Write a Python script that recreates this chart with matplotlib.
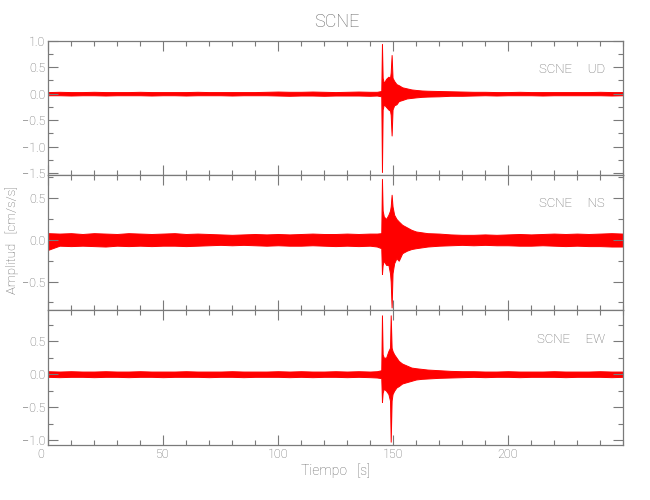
import matplotlib
matplotlib.use("Agg")
import matplotlib.pyplot as plt
from matplotlib.ticker import FixedLocator, MultipleLocator, FuncFormatter
import matplotlib.transforms as mtransforms

plt.rcParams['font.family'] = ['Roboto', 'DejaVu Sans']
plt.rcParams['font.weight'] = 'light'

# ---------------- data (envelope of each trace) -------------
station = "SCNE"
components = ["UD", "NS", "EW"]

t = [0, 5, 10, 15, 20, 25, 30, 35, 40, 45, 50, 55, 60, 65, 70, 75, 80, 85, 90, 95,
     100, 105, 110, 115, 120, 125, 130, 135, 140,
     143, 144.9, 145.2, 145.5, 146, 147, 148, 148.7, 149.0, 149.4, 149.8, 150.5,
     151.5, 152.5, 154, 156, 158, 160, 162.5,
     165, 170, 175, 180, 185, 190, 195, 200, 205, 210, 215, 220, 225, 230, 235, 240, 245, 250]

ud_up = [0.03, 0.035, 0.03, 0.03, 0.035, 0.03, 0.03, 0.03, 0.035, 0.03, 0.03, 0.03, 0.03, 0.035,
         0.03, 0.03, 0.03, 0.03, 0.03, 0.035, 0.04, 0.035, 0.035, 0.04, 0.035, 0.03, 0.035, 0.04, 0.035,
         0.035, 0.05, 0.94, 0.3, 0.2, 0.28, 0.32, 0.3, 0.4, 0.73, 0.3, 0.24,
         0.18, 0.16, 0.12, 0.1, 0.08, 0.07, 0.06,
         0.055, 0.05, 0.045, 0.04, 0.035, 0.035, 0.03, 0.03, 0.035, 0.03, 0.03, 0.03, 0.03, 0.03,
         0.03, 0.035, 0.03, 0.03]
ud_lo = [-0.03, -0.03, -0.035, -0.03, -0.03, -0.035, -0.03, -0.03, -0.03, -0.035, -0.03, -0.03,
         -0.035, -0.03, -0.03, -0.03, -0.035, -0.03, -0.03, -0.03, -0.035, -0.04, -0.035, -0.035,
         -0.04, -0.035, -0.035, -0.035, -0.04,
         -0.035, -0.05, -1.48, -0.3, -0.2, -0.25, -0.3, -0.32, -0.4, -0.79, -0.3, -0.22,
         -0.2, -0.14, -0.12, -0.09, -0.08, -0.07, -0.06,
         -0.055, -0.05, -0.04, -0.04, -0.035, -0.03, -0.035, -0.03, -0.03, -0.03, -0.035, -0.03,
         -0.03, -0.03, -0.03, -0.03, -0.035, -0.03]

ns_up = [0.08, 0.075, 0.08, 0.07, 0.08, 0.075, 0.07, 0.08, 0.075, 0.07, 0.075, 0.08, 0.07, 0.075,
         0.07, 0.065, 0.06, 0.065, 0.07, 0.065, 0.07, 0.065, 0.07, 0.075, 0.07, 0.07, 0.075, 0.07, 0.075,
         0.075, 0.08, 0.73, 0.35, 0.28, 0.25, 0.3, 0.35, 0.4, 0.54, 0.4, 0.3,
         0.25, 0.22, 0.18, 0.15, 0.12, 0.1, 0.09,
         0.08, 0.075, 0.065, 0.06, 0.06, 0.065, 0.06, 0.065, 0.07, 0.065, 0.07, 0.075, 0.07,
         0.075, 0.07, 0.075, 0.08, 0.075]
ns_lo = [-0.12, -0.07, -0.075, -0.07, -0.075, -0.08, -0.07, -0.075, -0.07, -0.075, -0.07, -0.07,
         -0.075, -0.07, -0.065, -0.06, -0.065, -0.06, -0.065, -0.07, -0.065, -0.07, -0.07, -0.065,
         -0.07, -0.075, -0.07, -0.075, -0.07,
         -0.08, -0.1, -0.41, -0.3, -0.25, -0.3, -0.3, -0.4, -0.5, -0.81, -0.4, -0.28,
         -0.22, -0.25, -0.16, -0.13, -0.11, -0.1, -0.09,
         -0.08, -0.07, -0.065, -0.06, -0.065, -0.06, -0.065, -0.065, -0.07, -0.07, -0.065, -0.07,
         -0.075, -0.07, -0.075, -0.075, -0.08, -0.08]

ew_up = [0.045, 0.04, 0.045, 0.04, 0.04, 0.045, 0.04, 0.04, 0.045, 0.04, 0.04, 0.04, 0.045, 0.04,
         0.04, 0.04, 0.045, 0.04, 0.04, 0.04, 0.045, 0.04, 0.045, 0.04, 0.04, 0.045, 0.04, 0.045, 0.04,
         0.045, 0.06, 0.89, 0.3, 0.25, 0.25, 0.35, 0.4, 0.89, 0.4, 0.35, 0.3,
         0.25, 0.2, 0.16, 0.13, 0.1, 0.09, 0.08,
         0.07, 0.06, 0.05, 0.045, 0.045, 0.04, 0.04, 0.045, 0.04, 0.04, 0.04, 0.045, 0.04,
         0.04, 0.04, 0.045, 0.04, 0.04]
ew_lo = [-0.04, -0.045, -0.04, -0.04, -0.045, -0.04, -0.04, -0.045, -0.04, -0.04, -0.045, -0.04,
         -0.04, -0.04, -0.045, -0.04, -0.04, -0.045, -0.04, -0.04, -0.04, -0.045, -0.04, -0.045,
         -0.04, -0.04, -0.045, -0.04, -0.045,
         -0.05, -0.06, -0.42, -0.28, -0.22, -0.25, -0.3, -0.4, -1.02, -0.4, -0.3, -0.25,
         -0.2, -0.18, -0.14, -0.12, -0.1, -0.08, -0.07,
         -0.065, -0.055, -0.05, -0.045, -0.04, -0.045, -0.04, -0.04, -0.045, -0.04, -0.04, -0.04,
         -0.045, -0.04, -0.04, -0.04, -0.045, -0.04]

x_major = [0, 50, 100, 150, 200]
y_major = [[-1.5, -1.0, -0.5, 0.0, 0.5, 1.0], [-0.5, 0.0, 0.5], [-1.0, -0.5, 0.0, 0.5]]
y_limits = [(-1.53, 1.0), (-0.84, 0.78), (-1.07, 0.97)]
x_limits = (0, 250)

title_text = "SCNE"
x_label = "Tiempo   [s]"
y_label = "Amplitud   [cm/s/s]"

# ---------------- figure -------------
W, H = 650, 500
fig = plt.figure(figsize=(W / 100, H / 100), dpi=100)
gray = '#666666'
spine_col = '#7a7a7a'

left_px, right_px = 48, 623
edges_px = [40.7, 174.7, 310, 445]

uppers = [ud_up, ns_up, ew_up]
lowers = [ud_lo, ns_lo, ew_lo]

fmt = FuncFormatter(lambda v, p: f"{v:.1f}".replace('-', '\u2212'))

axes = []
for i in range(3):
    top, bot = edges_px[i], edges_px[i + 1]
    ax = fig.add_axes([left_px / W, 1 - bot / H, (right_px - left_px) / W, (bot - top) / H])
    axes.append(ax)
    ax.fill_between(t, lowers[i], uppers[i], color='#ff0000', edgecolor='#ff0000',
                    linewidth=0.7)
    ax.set_xlim(*x_limits)
    ax.set_ylim(*y_limits[i])
    ax.xaxis.set_major_locator(FixedLocator(x_major))
    ax.xaxis.set_minor_locator(MultipleLocator(10))
    ax.yaxis.set_major_locator(FixedLocator(y_major[i]))
    ax.yaxis.set_minor_locator(MultipleLocator(0.25))
    ax.yaxis.set_major_formatter(fmt)
    ax.tick_params(which='both', direction='in', top=True, right=True,
                   colors=spine_col, labelcolor=gray, labelsize=9)
    ax.tick_params(which='major', length=7, width=0.8, pad=2)
    ax.tick_params(which='minor', length=3.6, width=0.8)
    for s in ax.spines.values():
        s.set_color(spine_col)
        s.set_linewidth(0.9)
    if i < 2:
        ax.tick_params(labelbottom=False)
    ax.text(1, 1, f"{station}     {components[i]}", transform=ax.transAxes
            + mtransforms.ScaledTranslation(-13 / 72, -21 / 72, fig.dpi_scale_trans),
            ha='right', va='center', color=gray, fontsize=9.5)

# shift the "0" x tick label slightly left as in the reference
fig.canvas.draw()
for lab in axes[2].get_xticklabels():
    if lab.get_text() == '0':
        lab.set_transform(lab.get_transform()
                          + mtransforms.ScaledTranslation(-7 / 100, 0, fig.dpi_scale_trans))

fig.text(337 / W, 1 - 22 / H, title_text, ha='center', va='center', color=gray, fontsize=13)
fig.text((left_px + right_px) / 2 / W, 1 - 471 / H, x_label, ha='center', va='center',
         color=gray, fontsize=10)
fig.text(12 / W, 1 - 240 / H, y_label, ha='center', va='center', rotation=90,
         color=gray, fontsize=9.5)

fig.savefig("out.png", dpi=100, facecolor='white')
